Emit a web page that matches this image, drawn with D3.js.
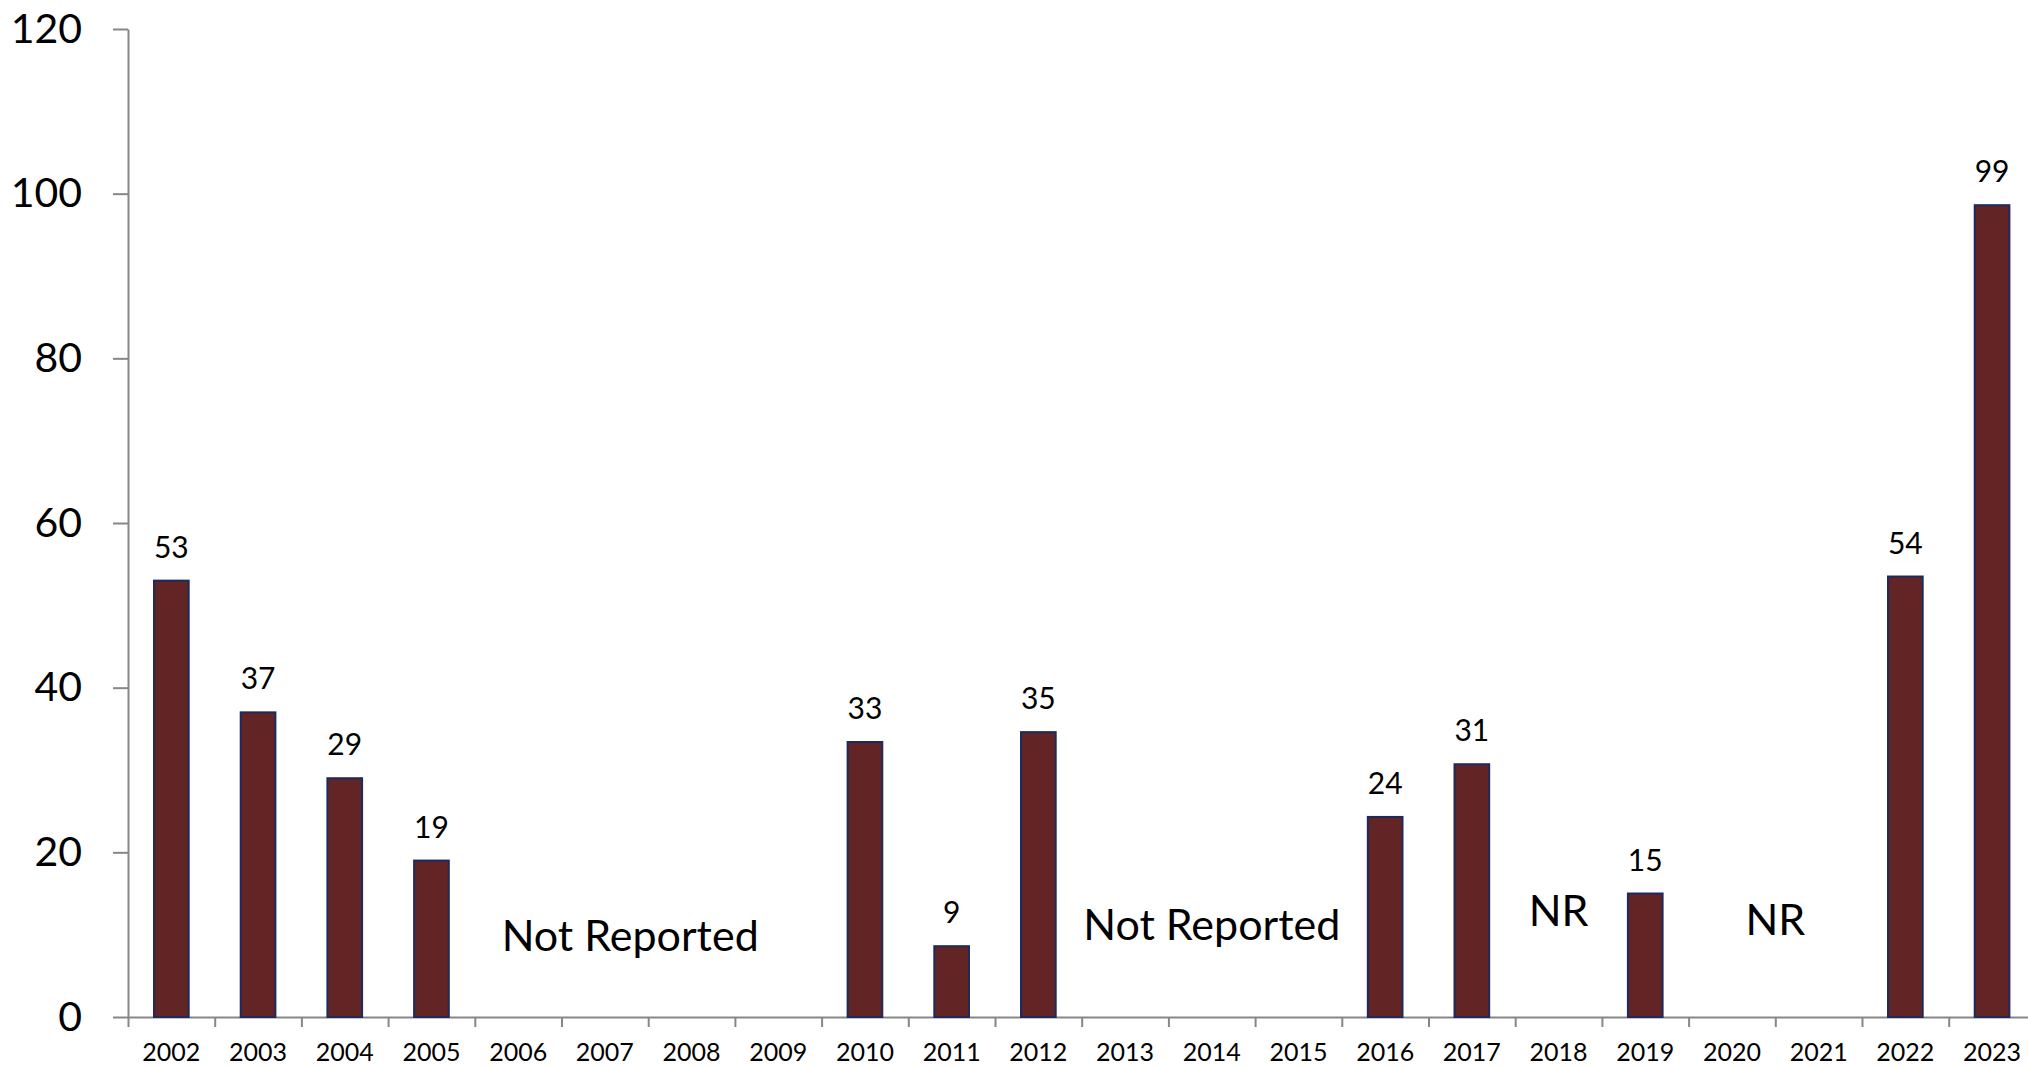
<!DOCTYPE html>
<html>
<head>
<meta charset="utf-8">
<script src="https://cdn.jsdelivr.net/npm/d3@7"></script>
<style>
  body { margin: 0; background: #fff; }
  svg { display: block; font-family: Lato, Calibri, sans-serif; }
</style>
</head>
<body>
<div id="chart"></div>
<script>
// data
const years = ['2002', '2003', '2004', '2005', '2006', '2007', '2008', '2009', '2010', '2011', '2012',
    '2013', '2014', '2015', '2016', '2017', '2018', '2019', '2020', '2021', '2022', '2023'];
const values = [53, 37, 29, 19, null, null, null, null, 33.4, 8.6, 34.6,
    null, null, null, 24.3, 30.7, null, 15, null, null, 53.5, 98.6];
const valueLabels = ['53', '37', '29', '19', '', '', '', '', '33', '9', '35',
    '', '', '', '24', '31', '', '15', '', '', '54', '99'];
const yTicks = [0, 20, 40, 60, 80, 100, 120];

// gaps in the series
const gapText = ['Not Reported', 'Not Reported', 'NR', 'NR'];
const gapFrom = ['2006', '2013', '2018', '2020'];
const gapTo = ['2009', '2015', '2018', '2021'];
const gapLevel = [8, 9.3, 11.1, 10];

const width = 2028,
    height = 1068,
    plotLeft = 128,
    plotTop = 29,
    plotBottom = 1017,
    step = 86.7,
    font = 'Lato, Calibri, sans-serif';

const svg = d3.select('#chart')
    .append('svg')
    .attr('width', width)
    .attr('height', height);

// scales
const x = d3.scaleBand()
    .domain(years)
    .range([plotLeft, plotLeft + step * years.length])
    .paddingInner(0.6)
    .paddingOuter(0.3);

const xEdge = d3.scaleLinear()
    .domain([0, years.length])
    .range([plotLeft, plotLeft + step * years.length]);

const y = d3.scaleLinear()
    .domain([0, 120])
    .range([plotBottom, plotTop]);

// y axis
const yAxis = svg.append('g')
    .attr('transform', `translate(${plotLeft},0)`)
    .call(d3.axisLeft(y).tickValues(yTicks).tickSize(15).tickSizeOuter(0).tickPadding(31))
    .attr('font-family', font);
yAxis.selectAll('text')
    .attr('font-size', 41)
    .attr('fill', '#000');

// x axis ticks at the band edges
svg.append('g')
    .attr('transform', `translate(0,${plotBottom})`)
    .call(d3.axisBottom(xEdge).tickValues(d3.range(years.length + 1)).tickFormat('').tickSize(10).tickSizeOuter(0));

// year labels
const xAxis = svg.append('g')
    .attr('transform', `translate(0,${plotBottom})`)
    .call(d3.axisBottom(x).tickSize(0).tickPadding(26))
    .attr('font-family', font);
xAxis.select('.domain').remove();
xAxis.selectAll('text')
    .attr('font-size', 25)
    .attr('fill', '#000');

svg.selectAll('.domain, .tick line')
    .attr('stroke', '#878787')
    .attr('stroke-width', 2);

// bars
const idx = d3.range(years.length).filter(i => values[i] != null);

svg.append('g')
    .selectAll('rect')
    .data(idx)
    .enter()
    .append('rect')
    .attr('x', i => x(years[i]))
    .attr('y', i => y(values[i]))
    .attr('width', x.bandwidth())
    .attr('height', i => y(0) - y(values[i]))
    .attr('fill', '#632425')
    .attr('stroke', '#1c2a5e')
    .attr('stroke-width', 2);

// value labels
svg.append('g')
    .selectAll('text')
    .data(idx)
    .enter()
    .append('text')
    .attr('x', i => x(years[i]) + x.bandwidth() / 2)
    .attr('y', i => y(values[i]) - 23)
    .attr('text-anchor', 'middle')
    .attr('font-size', 30)
    .attr('fill', '#000')
    .text(i => valueLabels[i]);

// not reported notes
svg.append('g')
    .selectAll('text')
    .data(gapText)
    .enter()
    .append('text')
    .attr('x', (d, i) => (x(gapFrom[i]) - x.step() * 0.3 + x(gapTo[i]) + x.bandwidth() + x.step() * 0.3) / 2 - (i === 0 ? 18 : 0))
    .attr('y', (d, i) => y(gapLevel[i]))
    .attr('text-anchor', 'middle')
    .attr('font-size', 43)
    .attr('fill', '#000')
    .text(d => d);
</script>
</body>
</html>
